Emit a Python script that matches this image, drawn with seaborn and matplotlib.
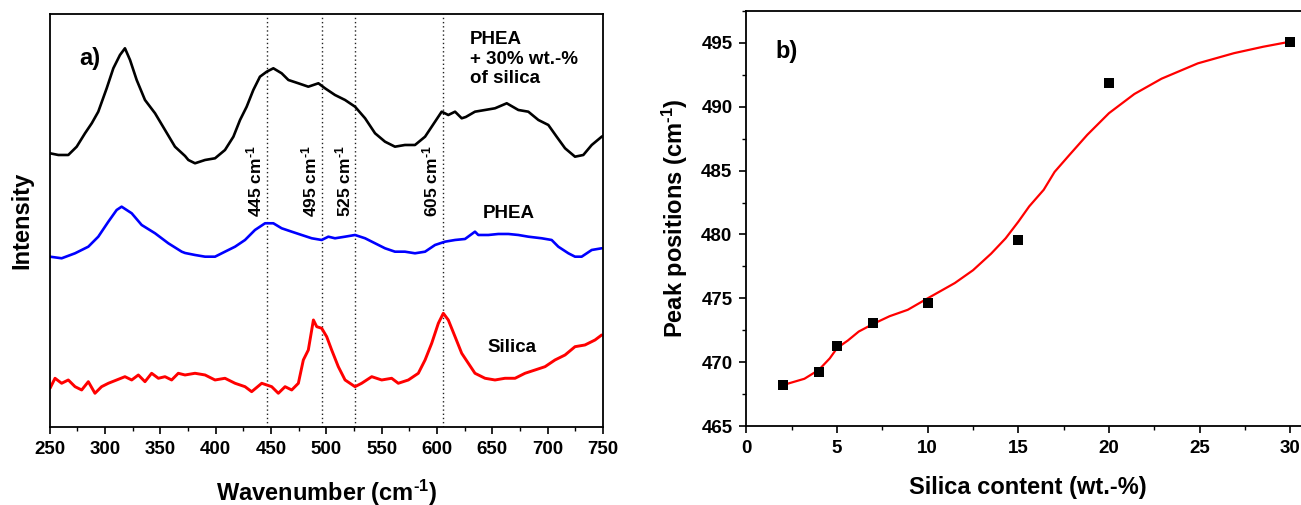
import matplotlib
matplotlib.use("Agg")
import matplotlib.pyplot as plt
from matplotlib.ticker import MultipleLocator
import seaborn as sns

# ---- panel a) Raman spectra (wavenumber, intensity in arbitrary units) ----
wn_composite = [250.3, 257.8, 266.8, 274.4, 281.9, 288.0, 293.9, 301.5, 307.5, 313.5, 318.0, 322.6,
                328.6, 336.1, 345.2, 354.2, 363.2, 372.3, 375.3, 381.3, 390.4, 399.4, 408.4, 416.0,
                422.0, 428.0, 434.0, 440.0, 446.1, 452.1, 459.6, 465.7, 474.7, 483.7, 492.8, 498.8,
                507.8, 516.9, 525.9, 535.0, 544.0, 553.0, 562.0, 571.0, 580.1, 589.2, 598.2, 604.2,
                610.2, 616.3, 622.3, 626.0, 634.3, 643.4, 652.4, 663.0, 673.5, 682.5, 691.6, 700.6,
                708.1, 715.7, 724.7, 732.2, 739.8, 748.8, 750.0]
int_composite = [273.7, 272.0, 272.0, 280.3, 293.7, 303.7, 315.3, 338.7, 358.7, 372.0, 378.7, 367.0,
                 347.0, 327.0, 313.7, 297.0, 280.3, 271.0, 267.0, 263.7, 267.0, 268.7, 277.0, 290.3,
                 307.0, 320.3, 337.0, 350.3, 355.3, 358.7, 353.7, 347.0, 343.7, 340.3, 343.7, 338.7,
                 332.0, 327.0, 320.3, 308.7, 293.7, 285.3, 280.3, 282.0, 282.0, 290.3, 305.3, 315.3,
                 312.0, 315.3, 308.7, 310.0, 315.3, 317.0, 318.7, 323.7, 317.0, 315.3, 307.0, 302.0,
                 290.3, 278.7, 270.3, 272.0, 282.0, 290.3, 291.0]

wn_phea = [250.3, 260.8, 272.9, 284.9, 293.9, 303.0, 310.5, 315.0, 324.1, 333.1, 345.2, 357.2,
           369.3, 372.3, 381.3, 390.4, 399.4, 408.4, 417.5, 426.5, 435.5, 444.6, 452.1, 459.6,
           468.7, 477.7, 486.8, 495.8, 501.8, 507.8, 516.9, 525.9, 535.0, 544.0, 553.0, 562.0,
           571.0, 580.1, 589.2, 598.2, 607.2, 616.3, 625.3, 634.3, 637.3, 646.4, 655.4, 664.5,
           673.5, 682.5, 694.6, 703.6, 709.6, 718.7, 724.7, 730.7, 739.8, 748.8]
int_phea = [170.3, 168.7, 173.7, 180.3, 190.3, 205.3, 217.0, 220.3, 213.7, 202.0, 193.7, 183.7,
            175.3, 174.0, 172.0, 170.3, 170.3, 175.3, 180.3, 187.0, 197.0, 203.7, 203.7, 198.7,
            195.3, 192.0, 188.7, 187.0, 190.3, 188.7, 190.3, 192.0, 188.7, 183.7, 178.7, 175.3,
            175.3, 173.7, 175.3, 182.0, 185.3, 187.0, 188.0, 195.3, 192.0, 192.0, 193.0, 193.0,
            192.0, 190.3, 188.7, 187.0, 180.3, 173.7, 170.3, 170.3, 177.0, 178.7]

wn_silica = [250.3, 254.8, 260.8, 266.8, 272.9, 278.9, 284.9, 290.9, 296.9, 303.0, 310.5, 318.0,
             324.1, 330.1, 336.1, 342.1, 348.2, 354.2, 360.2, 366.2, 372.3, 381.3, 390.4, 399.4,
             408.4, 417.5, 426.5, 432.5, 441.6, 450.6, 456.6, 462.7, 468.7, 474.7, 479.2, 483.7,
             488.3, 491.3, 495.8, 500.3, 504.8, 510.8, 516.9, 525.9, 531.9, 541.0, 550.0, 559.0,
             565.0, 574.1, 583.1, 589.2, 595.2, 601.2, 605.7, 610.2, 616.3, 622.3, 628.3, 634.3,
             643.4, 652.4, 661.4, 670.5, 679.5, 688.6, 697.6, 706.6, 715.7, 724.7, 733.7, 742.8,
             748.8]
int_silica = [38.7, 48.7, 43.7, 47.0, 40.3, 37.0, 45.3, 33.7, 40.3, 43.7, 47.0, 50.3,
              47.0, 52.0, 45.3, 53.7, 48.7, 50.3, 47.0, 53.7, 52.0, 53.7, 52.0, 47.0,
              48.7, 43.7, 40.3, 35.3, 43.7, 40.3, 33.7, 40.3, 37.0, 43.7, 67.0, 77.0,
              107.0, 100.3, 98.7, 90.3, 77.0, 60.3, 47.0, 40.3, 43.7, 50.3, 47.0, 48.7,
              43.7, 47.0, 53.7, 67.0, 83.7, 103.7, 113.7, 107.0, 90.3, 73.7, 63.7, 53.7,
              48.7, 47.0, 48.7, 48.7, 53.7, 57.0, 60.3, 67.0, 72.0, 80.3, 82.0, 87.0,
              92.0]

peak_lines = [446, 496, 526, 605]
peak_labels = ["445", "495", "525", "605"]

# ---- panel b) peak position vs silica content ----
silica_content = [2, 4, 5, 7, 10, 15, 20, 30]
peak_position = [468.2, 469.2, 471.3, 473.1, 474.6, 479.6, 491.9, 495.1]
fit_x = [2.0, 3.2, 4.0, 4.6, 5.0, 5.6, 6.2, 7.0, 7.9, 8.9, 10.0, 11.5, 12.5, 13.5,
         14.3, 15.0, 15.6, 16.4, 17.0, 17.8, 18.8, 20.0, 21.4, 22.9, 24.9, 26.9, 28.5, 30.0]
fit_y = [468.2, 468.7, 469.4, 470.3, 471.1, 471.7, 472.4, 473.0, 473.6, 474.1, 475.0, 476.2,
         477.2, 478.5, 479.7, 481.0, 482.2, 483.5, 484.9, 486.2, 487.8, 489.5, 491.0, 492.2,
         493.4, 494.2, 494.7, 495.1]

sns.set_style("ticks")
plt.rcParams["font.family"] = ["Liberation Sans", "DejaVu Sans"]
plt.rcParams["font.weight"] = "bold"
plt.rcParams["axes.labelweight"] = "bold"
plt.rcParams["text.color"] = "black"
plt.rcParams["axes.labelcolor"] = "black"
plt.rcParams["axes.edgecolor"] = "black"
plt.rcParams["xtick.color"] = "black"
plt.rcParams["ytick.color"] = "black"
plt.rcParams["mathtext.fontset"] = "custom"
plt.rcParams["mathtext.rm"] = "Liberation Sans:bold"
plt.rcParams["mathtext.it"] = "Liberation Sans:bold"
plt.rcParams["mathtext.bf"] = "Liberation Sans:bold"
plt.rcParams["mathtext.default"] = "rm"

sup = r"$^{\text{-}1}$"

fig = plt.figure(figsize=(13.01, 5.05), dpi=100)
ax1 = fig.add_axes([0.0382, 0.1545, 0.4253, 0.8178])
ax2 = fig.add_axes([0.5737, 0.1564, 0.4320, 0.8218])

tick_fs = 13.5
label_fs = 17

# panel a
for x in peak_lines:
    ax1.axvline(x, color="#222222", linestyle=(0, (1, 2)), linewidth=1.0, zorder=1)
sns.lineplot(x=wn_composite, y=int_composite, color="black", linewidth=1.9, estimator=None, ax=ax1)
sns.lineplot(x=wn_phea, y=int_phea, color="#0000ff", linewidth=1.9, estimator=None, ax=ax1)
sns.lineplot(x=wn_silica, y=int_silica, color="#ff0000", linewidth=2.1, estimator=None, ax=ax1)

for x, lab in zip(peak_lines, peak_labels):
    ax1.text(x - 2, 210, lab + " cm" + sup, rotation=90, ha="right", va="bottom",
             fontsize=12.5, fontweight="bold")

ax1.text(630, 396, "PHEA\n+ 30% wt.-%\nof silica", ha="left", va="top", fontsize=tick_fs,
         fontweight="bold", linespacing=1.2)
ax1.text(641, 209, "PHEA", ha="left", va="baseline", fontsize=tick_fs, fontweight="bold")
ax1.text(646, 75, "Silica", ha="left", va="baseline", fontsize=tick_fs, fontweight="bold")
ax1.text(277, 368, "a)", ha="left", va="center", fontsize=17, fontweight="bold")

ax1.set_xlim(250, 750)
ax1.set_ylim(0, 413)
ax1.set_yticks([])
ax1.xaxis.set_major_locator(MultipleLocator(50))
ax1.xaxis.set_minor_locator(MultipleLocator(25))
ax1.tick_params(axis="x", which="major", direction="out", length=5, width=1.2,
                labelsize=tick_fs, pad=5)
ax1.tick_params(axis="x", which="minor", direction="out", length=3, width=1.0)
ax1.set_xlabel("Wavenumber (cm" + sup + ")", fontsize=label_fs, labelpad=14)
ax1.set_ylabel("Intensity", fontsize=label_fs, labelpad=12)
for s in ax1.spines.values():
    s.set_linewidth(1.3)
    s.set_visible(True)

# panel b
sns.lineplot(x=fit_x, y=fit_y, color="#ff0000", linewidth=1.6, estimator=None, ax=ax2, zorder=2)
sns.scatterplot(x=silica_content, y=peak_position, marker="s", color="black", s=48,
                edgecolor="black", linewidth=0, ax=ax2, zorder=3)
ax2.text(1.6, 494.3, "b)", ha="left", va="center", fontsize=17, fontweight="bold")

ax2.set_xlim(0, 31)
ax2.set_ylim(465, 497.5)
ax2.xaxis.set_major_locator(MultipleLocator(5))
ax2.xaxis.set_minor_locator(MultipleLocator(2.5))
ax2.yaxis.set_major_locator(MultipleLocator(5))
ax2.yaxis.set_minor_locator(MultipleLocator(2.5))
ax2.tick_params(which="major", direction="out", length=5, width=1.2, labelsize=tick_fs, pad=5)
ax2.tick_params(which="minor", direction="out", length=3, width=1.0)
ax2.set_xlabel("Silica content (wt.-%)", fontsize=label_fs, labelpad=14)
ax2.set_ylabel("Peak positions (cm" + sup + ")", fontsize=label_fs, labelpad=8)
for s in ax2.spines.values():
    s.set_linewidth(1.3)
    s.set_visible(True)

fig.savefig("out.png", dpi=100)
